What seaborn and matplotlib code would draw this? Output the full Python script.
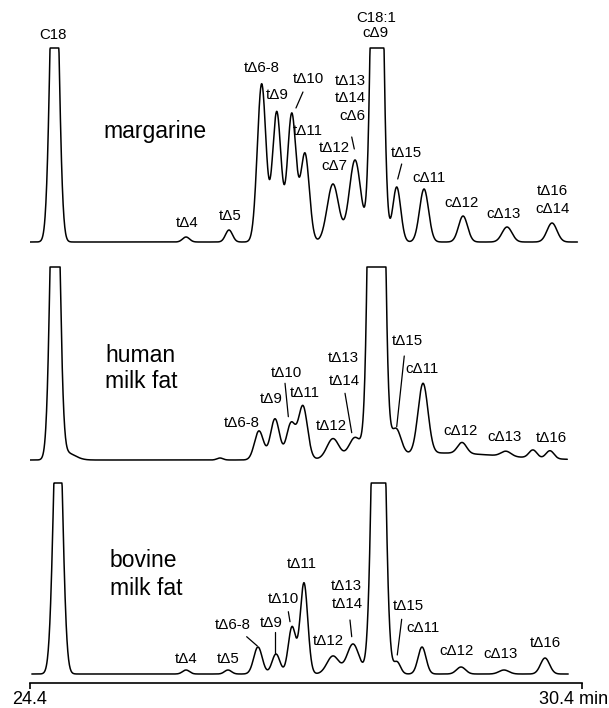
import numpy as np
import pandas as pd
import matplotlib
matplotlib.use("Agg")
import matplotlib.pyplot as plt
import seaborn as sns
from matplotlib.transforms import ScaledTranslation

# ---------------- data ----------------
samples = ["margarine", "human milk fat", "bovine milk fat"]

# retention time window recorded for each trace (min)
trace_start = [24.40, 24.35, 24.42]
trace_end = [30.35, 30.24, 30.25]
# off-scale level of the detector (signal units) for each trace
offscale = [194, 193, 191]

# margarine: peak retention times (min), heights, widths (min)
marg_rt = [24.666, 26.096, 26.563, 26.918, 27.082, 27.245, 27.389, 27.693,
           27.933, 28.172, 28.386, 28.683, 29.107, 29.585, 30.074]
marg_height = [350, 5, 12, 158, 130, 128, 88, 58, 82, 650, 55, 53, 26, 15, 19]
marg_width = [0.0446, 0.038, 0.038, 0.047, 0.047, 0.047, 0.047, 0.063,
              0.063, 0.049, 0.0435, 0.049, 0.049, 0.054, 0.054]

# human milk fat
human_rt = [24.672, 24.80, 26.465, 26.889, 27.063, 27.237, 27.367, 27.693,
            27.933, 28.166, 28.378, 28.857, 28.672, 29.096, 29.574, 29.867, 30.052]
human_height = [408, 7, 2, 29, 41, 36, 53, 20, 20, 1174, 26, 7, 70, 11, 5, 8, 8]
human_width = [0.0446, 0.09, 0.033, 0.049, 0.049, 0.049, 0.049, 0.065,
               0.065, 0.054, 0.054, 0.65, 0.054, 0.049, 0.054, 0.0435, 0.0435]

# bovine milk fat
bov_rt = [24.704, 26.096, 26.552, 26.878, 27.074, 27.248, 27.378, 27.693,
          27.911, 28.188, 28.389, 28.661, 29.085, 29.552, 29.998]
bov_height = [300, 4, 4, 27, 20, 47, 91, 18, 30, 585, 12, 27, 7, 4, 16]
bov_width = [0.047, 0.038, 0.038, 0.046, 0.0435, 0.041, 0.041, 0.065,
             0.065, 0.054, 0.038, 0.0435, 0.049, 0.054, 0.049]

# peak labels: (text, time, level)
marg_labels = [("C18", 24.645, 643.7), ("tΔ4", 26.112, 455.7), ("tΔ5", 26.574, 463),
               ("tΔ6-8", 26.918, 611.3), ("tΔ9", 27.090, 583.7), ("tΔ10", 27.422, 599.7),
               ("tΔ11", 27.422, 548), ("tΔ12", 27.704, 531.3), ("cΔ7", 27.704, 513),
               ("tΔ13", 27.878, 598), ("tΔ14", 27.878, 581.3), ("cΔ6", 27.90, 563),
               ("C18:1", 28.168, 661.3), ("cΔ9", 28.159, 645.7), ("tΔ15", 28.495, 526.3),
               ("cΔ11", 28.737, 501.3), ("cΔ12", 29.092, 476.3), ("cΔ13", 29.552, 464.7),
               ("tΔ16", 30.083, 488), ("cΔ14", 30.080, 469.7)]
human_labels = [("tΔ6-8", 26.704, 256.3), ("tΔ9", 27.027, 279.7), ("tΔ10", 27.19, 306.3),
                ("tΔ11", 27.389, 286.3), ("tΔ12", 27.679, 253), ("tΔ13", 27.805, 321.3),
                ("tΔ14", 27.813, 298), ("tΔ15", 28.503, 338), ("cΔ11", 28.661, 309.7),
                ("cΔ12", 29.085, 248), ("cΔ13", 29.56, 242.3), ("tΔ16", 30.07, 241.3)]
bov_labels = [("tΔ4", 26.096, 20.3), ("tΔ5", 26.552, 20.3), ("tΔ6-8", 26.601, 53.7),
              ("tΔ9", 27.027, 56.3), ("tΔ10", 27.153, 80.3), ("tΔ11", 27.357, 115.5),
              ("tΔ12", 27.639, 38), ("tΔ13", 27.833, 93), ("tΔ14", 27.851, 74.7),
              ("tΔ15", 28.509, 73), ("cΔ11", 28.668, 51.3), ("cΔ12", 29.038, 28),
              ("cΔ13", 29.517, 24.7), ("tΔ16", 30.003, 36.3)]

# ---------------- layout ----------------
offsets = [441, 223, 9]
name_pos = [(25.197, [544.7]), (25.215, [321.3, 294.7]), (25.27, [116.3, 88])]
name_lines = [["margarine"], ["human", "milk fat"], ["bovine", "milk fat"]]
leaders = [
    [(27.367, 591, 27.291, 575), (27.897, 546, 27.925, 534), (28.440, 519, 28.397, 504)],
    [(27.172, 299.7, 27.208, 266.3), (27.824, 289.7, 27.897, 250.3), (28.468, 327, 28.386, 256.3)],
    [(26.755, 46.3, 26.871, 37), (27.063, 51.3, 27.063, 30.3), (27.208, 71.3, 27.226, 61.3),
     (27.878, 63, 27.897, 46.3), (28.44, 63.7, 28.392, 28)],
]

peaks = [(marg_rt, marg_height, marg_width),
         (human_rt, human_height, human_width),
         (bov_rt, bov_height, bov_width)]
labels = [marg_labels, human_labels, bov_labels]

frames = []
for i, name in enumerate(samples):
    rt, h, w = (np.asarray(a, float) for a in peaks[i])
    t = np.linspace(trace_start[i], trace_end[i], 2000)
    sig = (h[None, :] * np.exp(-0.5 * ((t[:, None] - rt[None, :]) / w[None, :]) ** 2)).sum(axis=1)
    sig = np.minimum(sig, offscale[i])
    frames.append(pd.DataFrame({"time": t, "signal": sig + offsets[i], "sample": name}))
df = pd.concat(frames, ignore_index=True)

sns.set_style("white")
plt.rcParams["font.family"] = ["Liberation Sans", "DejaVu Sans"]
plt.rcParams["text.color"] = "black"
plt.rcParams["xtick.color"] = "black"

fig = plt.figure(figsize=(6.09, 7.08), dpi=100)
ax = fig.add_axes([30 / 609, 25 / 708, 552 / 609, 683 / 708])
sns.lineplot(data=df, x="time", y="signal", units="sample", estimator=None,
             color="black", linewidth=1.1, ax=ax, legend=False, sort=False)

ax.set_xlim(24.4, 30.4)
ax.set_ylim(0, 683)
for s in ["top", "right", "left"]:
    ax.spines[s].set_visible(False)
ax.spines["bottom"].set_linewidth(1.2)
ax.spines["bottom"].set_color("black")
ax.set_yticks([])
ax.set_xlabel("")
ax.set_ylabel("")
ax.set_xticks([24.4, 30.4], ["24.4", "30.4 min"])
ax.tick_params(axis="x", direction="out", length=4, width=1.2, pad=2,
               labelsize=13, colors="black", labelcolor="black", bottom=True)
lbls = ax.get_xticklabels()
lbls[1].set_transform(lbls[1].get_transform() + ScaledTranslation(-0.08, 0, fig.dpi_scale_trans))

for i in range(3):
    for txt, x, y in labels[i]:
        ax.text(x, y, txt, ha="center", va="baseline", fontsize=10.8,
                color="black", clip_on=False)
    x0, ys = name_pos[i]
    for line, y in zip(name_lines[i], ys):
        ax.text(x0, y, line, ha="left", va="baseline", fontsize=16.5, color="black")
    for (xa, ya, xb, yb) in leaders[i]:
        ax.plot([xa, xb], [ya, yb], color="black", linewidth=0.9)

fig.savefig("out.png", dpi=100)
